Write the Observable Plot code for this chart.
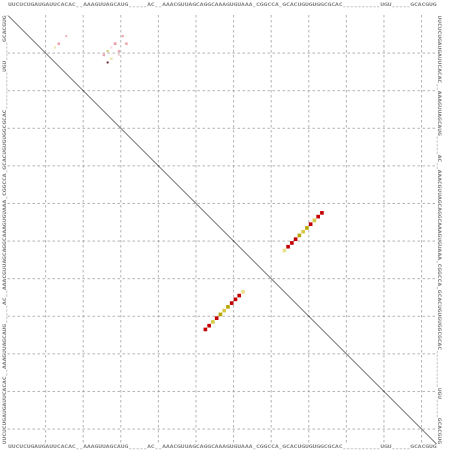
<!DOCTYPE html>
<html><head><meta charset="utf-8">
<script src="https://cdn.jsdelivr.net/npm/d3@7"></script>
<script src="https://cdn.jsdelivr.net/npm/@observablehq/plot@0.6"></script>
<style>html,body{margin:0;padding:0;background:#fff}svg{display:block}g[aria-label="text"]{filter:grayscale(1)}</style>
</head><body><div id="chart"></div>
<script>
// alignment sequence (gaps shown as "_")
const sequence = "UUCUCUGAUGAUUCACAC__AAAGUUAGCAUG_____AC__AAACGUUAGCAGGCAAAGUGUAAA_CGGCCA_GCACUGUGUGGCGCAC__________UGU_____GCACGUG";
const gridTicks = [10, 20, 30, 40, 50, 60, 70, 80, 90, 100, 110];

// helix base pairs (i < j), drawn in both triangles
const helixI = [53, 54, 55, 56, 57, 58, 59, 60, 61, 62, 63];
const helixJ = [84, 83, 82, 81, 80, 79, 78, 77, 76, 75, 74];
const helixClass = ["paired", "paired", "half", "paired", "gu", "half", "gu", "paired", "paired", "paired", "weak"];

// low-probability pairs (upper triangle only): x = i, y = j
const lowX = [16, 14, 13, 26, 27, 28, 29, 31, 32, 30, 30, 27, 28];
const lowY = [6, 8, 9, 11, 10, 9, 8, 6, 8, 10, 11, 13, 12];
const lowClass = ["lowPaired", "lowPaired", "lowHalf", "lowPaired", "lowGu", "lowFaint", "lowPaired", "lowPaired", "lowPaired", "lowPaired", "lowFaint", "other", "lowHalf"];
const lowProb = [0.25, 0.45, 0.35, 0.4, 0.3, 0.3, 0.55, 0.35, 0.45, 0.35, 0.3, 0.25, 0.45];

const classes = ["paired", "gu", "half", "weak", "other", "lowPaired", "lowHalf", "lowGu", "lowFaint"];
const classColors = ["#c20000", "#b8a600", "#d6ca45", "#eadf8c", "#5a1420", "#eca2aa", "#eee6b0", "#c9c46a", "#f4d8dc"];

const n = sequence.length;
const seqData = Array.from(sequence, (ch, k) => ({pos: k + 1, ch}));
const helix = helixI.flatMap((i, k) => [
  {x: i, y: helixJ[k], cls: helixClass[k]},
  {x: helixJ[k], y: i, cls: helixClass[k]}
]);
const low = lowX.map((x, k) => ({x, y: lowY[k], cls: lowClass[k], p: lowProb[k]}));
const ends = [{a: 0.5, b: n + 0.5}];

const textStyle = {text: "ch", fontSize: 4.8, fill: "#858585", fontFamily: "DejaVu Sans, sans-serif", fontWeight: "bold", lineAnchor: "middle", textAnchor: "middle"};

const chart = Plot.plot({
  width: 452,
  height: 451,
  marginLeft: 7.5,
  marginRight: 15.9,
  marginTop: 15,
  marginBottom: 7.4,
  x: {domain: [0.5, n + 0.5], axis: null},
  y: {domain: [0.5, n + 0.5], reverse: true, axis: null},
  color: {domain: classes, range: classColors},
  r: {type: "sqrt", domain: [0, 1], range: [0, 2.1]},
  style: {background: "#fff", overflow: "visible"},
  marks: [
    Plot.ruleX(gridTicks, {x: d => d + 0.5, stroke: "#a0a0a0", strokeWidth: 0.8, strokeDasharray: "2.5,2.5"}),
    Plot.ruleY(gridTicks, {y: d => d + 0.5, stroke: "#a0a0a0", strokeWidth: 0.8, strokeDasharray: "2.5,2.5"}),
    Plot.link(ends, {x1: "a", y1: "a", x2: "b", y2: "b", stroke: "#000", strokeWidth: 0.75}),
    Plot.dot(low, {x: "x", y: "y", symbol: "square", r: "p", fill: "cls", stroke: null}),
    Plot.dot(helix, {x: "x", y: "y", symbol: "square", r: 2.05, fill: "cls", stroke: null}),
    Plot.text(seqData, {...textStyle, x: "pos", frameAnchor: "top", dy: -10.8}),
    Plot.text(seqData, {...textStyle, x: "pos", frameAnchor: "bottom", dy: 1.9}),
    Plot.text(seqData, {...textStyle, y: d => n + 1 - d.pos, frameAnchor: "left", dx: -3.3, rotate: -90}),
    Plot.text(seqData, {...textStyle, y: "pos", frameAnchor: "right", dx: 3, rotate: 90})
  ]
});
document.getElementById("chart").appendChild(chart);
</script>
</body></html>
